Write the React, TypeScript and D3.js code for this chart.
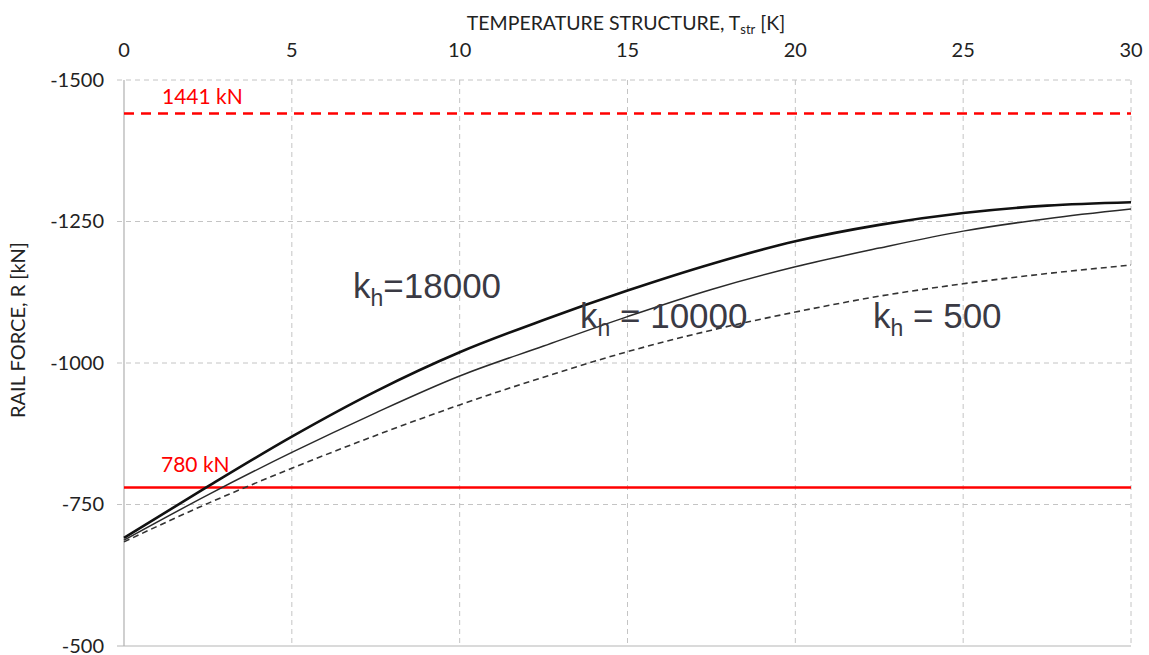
import React from "react";
import * as d3 from "d3";

// Structure temperature T_str [K] at which the rail force was evaluated
const temps = [0, 2.5, 5, 7.5, 10, 12.5, 15, 17.5, 20, 22.5, 25, 27.5, 30];

// Rail force R [kN] for three values of the horizontal stiffness k_h
const kh18000 = [-691, -782, -870, -950, -1019, -1076, -1128, -1175, -1215, -1244, -1265, -1278, -1284];
const kh10000 = [-687, -767, -842, -912, -977, -1030, -1082, -1130, -1170, -1203, -1233, -1255, -1272];
const kh500 = [-684, -752, -814, -872, -926, -975, -1020, -1058, -1090, -1118, -1140, -1158, -1173];

// Permissible rail force limits [kN]
const upperLimit = 1441;
const lowerLimit = 780;

const xTicks = [0, 5, 10, 15, 20, 25, 30];
const yTicks = [-1500, -1250, -1000, -750, -500];

const W = 1149;
const H = 655;
const M = { left: 124, right: 18, top: 80, bottom: 9 };

export default function App() {
  const x = d3.scaleLinear().domain([0, 30]).range([M.left, W - M.right]);
  const y = d3.scaleLinear().domain([-1500, -500]).range([M.top, H - M.bottom]);

  const line = d3
    .line<number>()
    .x((_, i) => x(temps[i]))
    .y((d) => y(d))
    .curve(d3.curveMonotoneX);

  const axisFont = "Lato, 'Open Sans', sans-serif";
  const labelFont = "'Liberation Sans', Arial, sans-serif";
  const grid = "#c4c4c4";
  const labelColor = "#3a3a44";

  const yUp = y(-upperLimit);
  const yLow = y(-lowerLimit);

  return (
    <svg
      width={W}
      height={H}
      style={{ position: "absolute", left: 0, top: 0, background: "#fff" }}
    >
      {/* horizontal grid */}
      {yTicks.map((t) => (
        <line
          key={"gy" + t}
          x1={M.left - 7}
          x2={x(30)}
          y1={y(t)}
          y2={y(t)}
          stroke={t === -500 ? "#b5b5b5" : grid}
          strokeWidth={1}
          strokeDasharray={t === -500 ? undefined : "5,4"}
        />
      ))}
      {/* vertical grid */}
      {xTicks.slice(1).map((t) => (
        <line
          key={"gx" + t}
          x1={x(t)}
          x2={x(t)}
          y1={y(-1500)}
          y2={y(-500)}
          stroke={grid}
          strokeWidth={1}
          strokeDasharray="5,4"
        />
      ))}
      {/* left axis */}
      <line x1={x(0)} x2={x(0)} y1={y(-1500)} y2={y(-500)} stroke="#b0b0b0" strokeWidth={1.2} />

      {/* x tick labels on top */}
      {xTicks.map((t) => (
        <text
          key={"xt" + t}
          x={x(t)}
          y={57}
          textAnchor="middle"
          fontFamily={axisFont}
          fontSize={20}
          fill="#222"
        >
          {t}
        </text>
      ))}
      {/* y tick labels */}
      {yTicks.map((t) => (
        <text
          key={"yt" + t}
          x={104}
          y={y(t) + 6.5}
          textAnchor="end"
          fontFamily={axisFont}
          fontSize={20}
          fill="#222"
        >
          {t}
        </text>
      ))}

      {/* axis titles */}
      <text x={626} y={30} textAnchor="middle" fontFamily={axisFont} fontSize={19.5} fill="#222">
        TEMPERATURE STRUCTURE, T
        <tspan fontSize={13} dy={4}>str</tspan>
        <tspan dy={-4}> [K]</tspan>
      </text>
      <text
        transform="translate(25,330) rotate(-90)"
        textAnchor="middle"
        fontFamily={axisFont}
        fontSize={20}
        fill="#222"
      >
        RAIL FORCE, R [kN]
      </text>

      {/* limit lines */}
      <line
        x1={x(0)}
        x2={x(30)}
        y1={yUp}
        y2={yUp}
        stroke="#ff0000"
        strokeWidth={2.5}
        strokeDasharray="10,7"
      />
      <text x={162} y={yUp - 9} fontFamily={axisFont} fontSize={21} fill="#ff0000">
        {upperLimit} kN
      </text>
      <line x1={x(0)} x2={x(30)} y1={yLow} y2={yLow} stroke="#ff0000" strokeWidth={2.5} />
      <text x={161} y={yLow - 16} fontFamily={axisFont} fontSize={21} fill="#ff0000">
        {lowerLimit} kN
      </text>

      {/* rail force curves */}
      <path d={line(kh500) || ""} fill="none" stroke="#333" strokeWidth={1.6} strokeDasharray="6,4" />
      <path d={line(kh10000) || ""} fill="none" stroke="#2a2a2a" strokeWidth={1.5} />
      <path d={line(kh18000) || ""} fill="none" stroke="#111" strokeWidth={2.6} />

      {/* curve labels */}
      <text x={353} y={298} fontFamily={labelFont} fontSize={35} fill={labelColor}>
        k<tspan fontSize={23} dy={8}>h</tspan>
        <tspan dy={-8}>=18000</tspan>
      </text>
      <text x={580} y={328} fontFamily={labelFont} fontSize={35} fill={labelColor}>
        k<tspan fontSize={23} dy={8}>h</tspan>
        <tspan dy={-8}> = 10000</tspan>
      </text>
      <text x={873} y={328} fontFamily={labelFont} fontSize={35} fill={labelColor}>
        k<tspan fontSize={23} dy={8}>h</tspan>
        <tspan dy={-8}> = 500</tspan>
      </text>
    </svg>
  );
}
